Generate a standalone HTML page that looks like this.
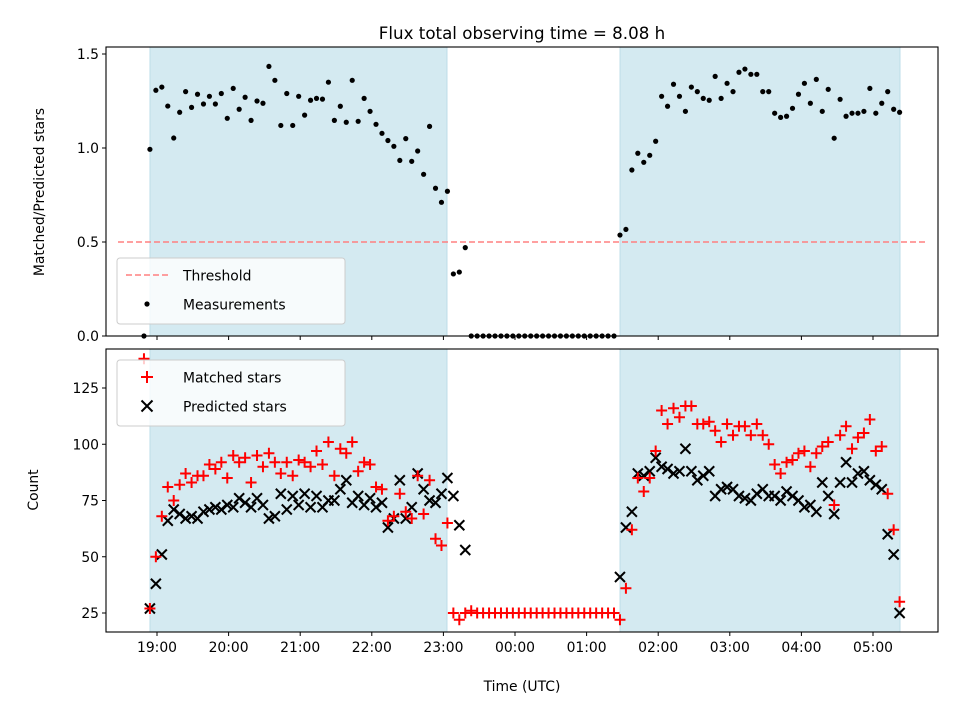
<!DOCTYPE html>
<html><head><meta charset="utf-8"><style>
html,body{margin:0;padding:0;background:#fff;}
svg{display:block;font-family:"DejaVu Sans","Liberation Sans",sans-serif;}
</style></head><body>
<svg id="chart" width="960" height="720" xmlns="http://www.w3.org/2000/svg">
<text x="522" y="39" font-size="16.7" text-anchor="middle">Flux total observing time = 8.08 h</text>
<g id="topPanel"></g>
<g id="botPanel"></g>
<text transform="translate(44,192) rotate(-90)" font-size="13.9" text-anchor="middle">Matched/Predicted stars</text>
<text transform="translate(38,490) rotate(-90)" font-size="13.9" text-anchor="middle">Count</text>
<text x="522" y="691" font-size="13.9" text-anchor="middle">Time (UTC)</text>
</svg>
<script>
const startTime = 18.818;
const stepHours = 0.0831;
const ratios = [0,
0.993,1.307,1.324,1.223,1.053,1.19,1.30,1.216,1.286,1.234,
1.275,1.234,1.29,1.158,1.317,1.206,1.27,1.147,1.25,1.238,
1.434,1.36,1.12,1.29,1.12,1.275,1.175,1.254,1.264,1.26,
1.35,1.147,1.222,1.137,1.36,1.142,1.264,1.195,1.126,1.078,
1.04,1.009,0.934,1.05,0.929,0.984,0.86,1.115,0.786,0.711,0.77,
0.33,0.34,0.47,
0,0,0,0,0,0,0,0,0,0,0,0,0,0,0,0,0,0,0,0,0,0,0,0,0,
0.537,0.567,0.883,0.972,0.924,0.961,1.036,1.275,1.222,1.339,
1.275,1.195,1.324,1.30,1.264,1.254,1.381,1.264,1.344,1.30,
1.403,1.42,1.392,1.392,1.30,1.30,1.185,1.163,1.169,1.211,
1.286,1.344,1.238,1.365,1.195,1.312,1.052,1.259,1.169,1.185,
1.185,1.195,1.317,1.185,1.238,1.30,1.206,1.19];
const matched = [138,
27,50,68,81,75,82,87,83,86,86,
91,89,92,85,95,92,94,83,95,90,
96,92,87,92,86,93,92,90,97,91,
101,86,98,96,101,88,92,91,81,80,
66,68,78,70,67,86,69,84,58,55,65,
25,22,25,
26,25,25,25,25,25,25,25,25,25,25,25,25,25,25,25,25,25,25,25,25,25,25,25,25,
22,36,62,85,79,85,97,115,109,116,
112,117,117,109,109,110,106,101,109,104,
108,108,104,109,104,100,91,87,92,93,
96,97,90,96,99,101,73,104,108,98,
103,105,111,97,99,78,62,30];
const predicted = [null,
27,38,51,66,71,69,67,68,67,70,
71,72,71,73,72,76,74,72,76,73,
67,68,78,71,77,73,78,72,77,72,
75,75,80,84,74,77,73,76,72,74,
63,67,84,67,72,87,80,75,74,78,85,
77,64,53,
null,null,null,null,null,null,null,null,null,null,null,null,null,null,null,null,null,null,null,null,null,null,null,null,null,
41,63,70,87,86,88,94,90,89,87,
88,98,88,84,86,88,77,80,81,80,
77,76,75,78,80,77,77,75,79,77,
75,72,73,70,83,77,69,83,92,83,
87,88,84,82,80,60,51,25];
const shadeStarts = [18.902, 25.467];
const shadeEnds = [23.05, 29.377];
const threshold = 0.5;
const xTickLabels = ["19:00","20:00","21:00","22:00","23:00","00:00","01:00","02:00","03:00","04:00","05:00"];
const xTickHours = [19,20,21,22,23,24,25,26,27,28,29];
const topTicks = [0,0.5,1.0,1.5];
const botTicks = [25,50,75,100,125];

const NS="http://www.w3.org/2000/svg";
const L=106,R=938;
const TT=47,TB=336,BT=349,BB=632;
function xS(t){return 157+(t-19)*71.6;}
function yTop(v){return 336-v*188;}
function yBot(v){return 613-(v-25)*2.25;}
function mk(tag,attrs,parent){const e=document.createElementNS(NS,tag);for(const k in attrs)e.setAttribute(k,attrs[k]);parent.appendChild(e);return e;}
const topG=document.getElementById('topPanel'),botG=document.getElementById('botPanel');
const times=ratios.map((_,i)=>startTime+i*stepHours);

function panel(g,yT,yB,ticks,yf,fmt,withLabels,prefix){
  for(let k=0;k<shadeStarts.length;k++){
    const r=mk('rect',{x:xS(shadeStarts[k]),y:yT,width:xS(shadeEnds[k])-xS(shadeStarts[k]),height:yB-yT,fill:'#d4eaf1',stroke:'#bddde8','stroke-width':1},g);
    
    
  }
  ticks.forEach(v=>{
    const y=yf(v);
    const ln=mk('line',{x1:L-4,x2:L,y1:y,y2:y,stroke:'#000','stroke-width':1},g);
    
    
    const t=mk('text',{x:L-7,y:y+5,'font-size':13.9,'text-anchor':'end'},g);
    t.textContent=fmt(v);
    
    
  });
  xTickHours.forEach((h,i)=>{
    const x=xS(h);
    const ln=mk('line',{x1:x,x2:x,y1:yB,y2:yB+4,stroke:'#000','stroke-width':1},g);
    
    
    if(withLabels){
      const t=mk('text',{x:x,y:yB+20,'font-size':13.9,'text-anchor':'middle'},g);
      t.textContent=xTickLabels[i];
      
      
    }
  });
}
panel(topG,TT,TB,topTicks,yTop,v=>v.toFixed(1),false,'top');
panel(botG,BT,BB,botTicks,yBot,v=>String(v),true,'bottom');

const th=mk('line',{x1:118,x2:928,y1:yTop(threshold),y2:yTop(threshold),stroke:'#ff8080','stroke-width':1.6,'stroke-dasharray':'6,3'},topG);



ratios.forEach((v,i)=>{
  const c=mk('circle',{cx:xS(times[i]),cy:yTop(v),r:2.6,fill:'#000'},topG);
  
  
});

predicted.forEach((v,i)=>{
  if(v===null)return;
  const x=xS(times[i]),y=yBot(v),s=5;
  const p=mk('path',{d:`M${x-s},${y-s}L${x+s},${y+s}M${x-s},${y+s}L${x+s},${y-s}`,stroke:'#000','stroke-width':2,fill:'none'},botG);
  
  
});
matched.forEach((v,i)=>{
  const x=xS(times[i]),y=yBot(v),s=5.5;
  const p=mk('path',{d:`M${x-s},${y}L${x+s},${y}M${x},${y-s}L${x},${y+s}`,stroke:'#f00','stroke-width':2,fill:'none'},botG);
  
  
});

[[TT,TB,topG,'top'],[BT,BB,botG,'bottom']].forEach(([a,b,g,p])=>{
  const r=mk('rect',{x:L,y:a,width:R-L,height:b-a,fill:'none',stroke:'#000','stroke-width':1.1},g);
  
  
});

function legend(g,y,entries,name){
  const lg=mk('g',{},g);
  
  
  mk('rect',{x:117,y:y,width:228,height:66,rx:3,fill:'rgba(255,255,255,0.8)',stroke:'#ccc','stroke-width':1},lg);
  entries.forEach((e,k)=>{
    const cy=y+17+k*29;
    if(e.kind==='dash')mk('line',{x1:126,x2:168,y1:cy,y2:cy,stroke:'#ff8080','stroke-width':1.6,'stroke-dasharray':'6,3'},lg);
    if(e.kind==='dot')mk('circle',{cx:147,cy:cy,r:2.6,fill:'#000'},lg);
    if(e.kind==='plus')mk('path',{d:`M141,${cy}L153,${cy}M147,${cy-6}L147,${cy+6}`,stroke:'#f00','stroke-width':2},lg);
    if(e.kind==='x')mk('path',{d:`M141.5,${cy-5.5}L152.5,${cy+5.5}M141.5,${cy+5.5}L152.5,${cy-5.5}`,stroke:'#000','stroke-width':2},lg);
    const t=mk('text',{x:183,y:cy+5.5,'font-size':13.9},lg);
    t.textContent=e.label;
    
    
  });
}
legend(topG,258,[{kind:'dash',label:'Threshold'},{kind:'dot',label:'Measurements'}],'top-legend');
legend(botG,360,[{kind:'plus',label:'Matched stars'},{kind:'x',label:'Predicted stars'}],'bottom-legend');
</script>
</body></html>
